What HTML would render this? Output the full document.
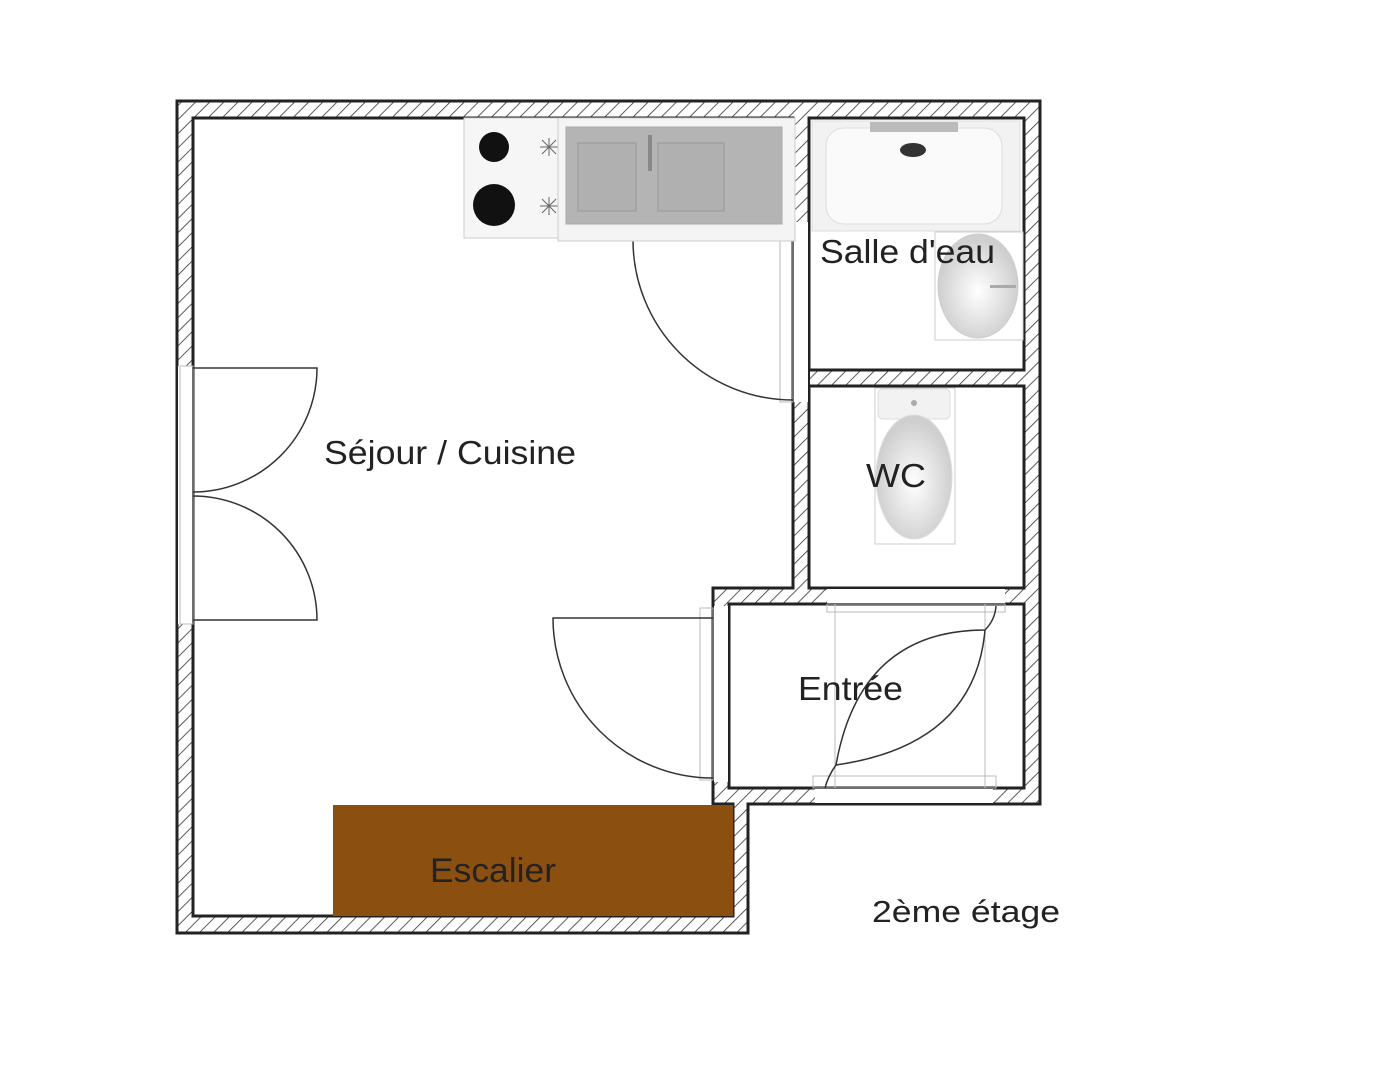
<!DOCTYPE html>
<html><head><meta charset="utf-8"><style>
html,body{margin:0;padding:0;background:#fff;}
svg{display:block;}
text{font-family:"Liberation Sans",sans-serif;fill:#222;}
</style></head><body>
<svg width="1376" height="1080" viewBox="0 0 1376 1080" xmlns="http://www.w3.org/2000/svg">
<defs>
<pattern id="h" patternUnits="userSpaceOnUse" width="10" height="10" patternTransform="rotate(45)">
<rect width="10" height="10" fill="#fff"/>
<line x1="0" y1="0" x2="0" y2="10" stroke="#333" stroke-width="1.6"/>
</pattern>
<radialGradient id="bowl" cx="50%" cy="55%" r="50%"><stop offset="0" stop-color="#fff"/><stop offset="1" stop-color="#cfcfcf"/></radialGradient>
</defs>
<path d="M177,101 H1040 V804 H748 V933 H177 Z" fill="url(#h)" stroke="#222" stroke-width="3"/>
<path d="M193,118 H793 V588 H713 V804 H733 V916 H193 Z" fill="#fff" stroke="#222" stroke-width="3"/>
<rect x="809" y="118" width="215" height="252" fill="#fff" stroke="#222" stroke-width="3"/>
<rect x="809" y="386" width="215" height="202" fill="#fff" stroke="#222" stroke-width="3"/>
<rect x="729" y="604" width="295" height="184" fill="#fff" stroke="#222" stroke-width="3"/>
<rect x="176" y="366" width="18" height="258" fill="#fff"/>
<line x1="177" y1="366" x2="177" y2="624" stroke="#222" stroke-width="2"/>
<line x1="193" y1="366" x2="193" y2="624" stroke="#222" stroke-width="2"/>
<rect x="792" y="222" width="18" height="180" fill="#fff"/>
<line x1="793" y1="222" x2="793" y2="402" stroke="#222" stroke-width="2"/>
<line x1="809" y1="222" x2="809" y2="402" stroke="#222" stroke-width="2"/>
<rect x="712" y="606" width="18" height="176" fill="#fff"/>
<line x1="713" y1="606" x2="713" y2="782" stroke="#222" stroke-width="2"/>
<line x1="729" y1="606" x2="729" y2="782" stroke="#222" stroke-width="2"/>
<rect x="827" y="587" width="178" height="18" fill="#fff"/>
<line x1="827" y1="588" x2="1005" y2="588" stroke="#222" stroke-width="2"/>
<line x1="827" y1="604" x2="1005" y2="604" stroke="#222" stroke-width="2"/>
<rect x="815" y="787" width="178" height="18" fill="#fff"/>
<line x1="815" y1="788" x2="993" y2="788" stroke="#222" stroke-width="2"/>
<line x1="815" y1="804" x2="993" y2="804" stroke="#222" stroke-width="2"/>
<g fill="none" stroke="#bbb" stroke-width="1">
<rect x="780" y="240" width="13" height="162"/>
<rect x="700" y="608" width="13" height="172"/>
<rect x="835" y="604" width="150" height="184"/>
<rect x="813" y="776" width="183" height="12"/>
<rect x="827" y="604" width="178" height="8"/>
<rect x="180" y="366" width="13" height="258"/>
</g>
<g fill="none" stroke="#333" stroke-width="1.5">
<path d="M193,368 H317 A124,124 0 0 1 193,492"/>
<path d="M193,620 H317 A124,124 0 0 0 193,496"/>
<path d="M633,240 A160,160 0 0 0 793,400"/>
<path d="M713,618 H553 A160,160 0 0 0 713,778"/>
<path d="M825,788 Q828,776 836,765 Q860,630 985,630 Q995,620 996,606"/>
<path d="M836,765 Q975,745 985,630"/>
</g>
<rect x="464" y="118" width="96" height="120" fill="#f6f6f6" stroke="#ccc"/>
<circle cx="494" cy="147" r="15" fill="#111"/>
<circle cx="494" cy="205" r="21" fill="#111"/>
<g stroke="#666" stroke-width="1"><path d="M540,147 h18 M549,138 v18 M542,140 l14,14 M556,140 l-14,14"/><path d="M540,206 h18 M549,197 v18 M542,199 l14,14 M556,199 l-14,14"/></g>
<rect x="558" y="118" width="237" height="123" fill="#f4f4f4" stroke="#ccc"/>
<rect x="566" y="127" width="216" height="97" fill="#b4b4b4" stroke="#aaa"/>
<rect x="578" y="143" width="58" height="68" fill="#b0b0b0" stroke="#999"/>
<rect x="658" y="143" width="66" height="68" fill="#b0b0b0" stroke="#999"/>
<rect x="648" y="135" width="4" height="36" fill="#888"/>
<rect x="812" y="121" width="208" height="110" fill="#f2f2f2" stroke="#ddd"/>
<rect x="826" y="128" width="176" height="96" rx="18" fill="#fafafa" stroke="#ddd"/>
<rect x="870" y="122" width="88" height="10" fill="#bbb"/>
<ellipse cx="913" cy="150" rx="13" ry="7" fill="#333"/>
<rect x="935" y="232" width="88" height="108" fill="#fff" stroke="#ccc"/>
<ellipse cx="978" cy="286" rx="40" ry="52" fill="url(#bowl)" stroke="#ccc"/>
<rect x="990" y="285" width="26" height="3" fill="#aaa"/>
<rect x="875" y="388" width="80" height="156" fill="#fff" stroke="#ccc"/>
<rect x="878" y="389" width="72" height="30" rx="5" fill="#f2f2f2" stroke="#ddd"/>
<circle cx="914" cy="403" r="3" fill="#aaa"/>
<ellipse cx="914" cy="477" rx="38" ry="62" fill="url(#bowl)" stroke="#ddd"/>
<rect x="333" y="805" width="400" height="111" fill="#8b5010"/>
<text x="324" y="464" font-size="33" textLength="252" lengthAdjust="spacingAndGlyphs">Séjour / Cuisine</text>
<text x="820" y="263" font-size="33" textLength="175" lengthAdjust="spacingAndGlyphs">Salle d'eau</text>
<text x="866" y="487" font-size="33" textLength="60" lengthAdjust="spacingAndGlyphs">WC</text>
<text x="798" y="700" font-size="33" textLength="105" lengthAdjust="spacingAndGlyphs">Entrée</text>
<text x="430" y="882" font-size="34" textLength="126" lengthAdjust="spacingAndGlyphs">Escalier</text>
<text x="872" y="922" font-size="31" textLength="188" lengthAdjust="spacingAndGlyphs">2ème étage</text>
</svg>
</body></html>
